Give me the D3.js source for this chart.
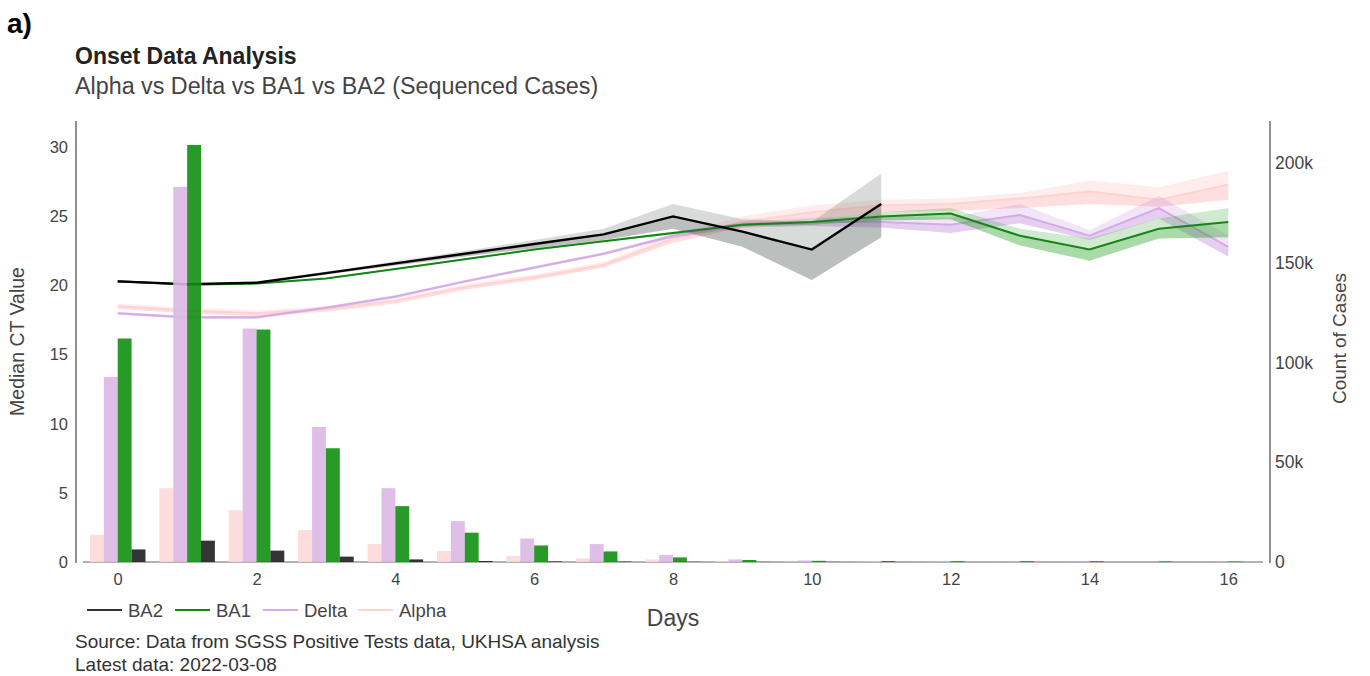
<!DOCTYPE html>
<html>
<head>
<meta charset="utf-8">
<script src="https://cdn.jsdelivr.net/npm/d3@7"></script>
<style>
	body { margin: 0; background: #fff; }
	svg { font-family: "Liberation Sans", Arial, sans-serif; }
	.tick text { fill: #444; font-size: 16.5px; }
	.y2 .tick text { font-size: 17.5px; }
</style>
</head>
<body>
<svg id="chart" width="1370" height="676"></svg>
<script>
var days = [0, 1, 2, 3, 4, 5, 6, 7, 8, 9, 10, 11, 12, 13, 14, 15, 16];
var series = ["Alpha", "Delta", "BA1", "BA2"];
var legendOrder = ["BA2", "BA1", "Delta", "Alpha"];

// count of cases per onset day (bars, right axis)
var casesAlpha = [13500, 37000, 26000, 16000, 9000, 5500, 3000, 1800, 1300, 400, 200, 100, 100, 50, 50, 20, 20];
var casesDelta = [92700, 188000, 117000, 67700, 37000, 20500, 11800, 9000, 3500, 1300, 800, 500, 300, 200, 200, 100, 100];
var casesBA1 = [112000, 209000, 116500, 57000, 28000, 14700, 8300, 5300, 2300, 1000, 600, 500, 400, 400, 400, 300, 200];
var casesBA2 = [6300, 10700, 5700, 2700, 1300, 500, 300, 200, 100, 50, 50, 30, 0, 0, 0, 0, 0];

// median CT value with band (left axis)
var ctBA2 = [20.3, 20.1, 20.2, 20.9, 21.6, 22.3, 23.0, 23.7, 25.0, 23.9, 22.6, 25.9];
var ctBA2Lo = [20.2, 20.05, 20.15, 20.8, 21.45, 22.1, 22.7, 23.3, 24.1, 22.8, 20.4, 23.5];
var ctBA2Hi = [20.4, 20.15, 20.25, 21.0, 21.75, 22.5, 23.3, 24.1, 25.9, 24.8, 24.6, 28.1];

var ctBA1 = [20.3, 20.05, 20.15, 20.5, 21.2, 21.9, 22.6, 23.2, 23.8, 24.4, 24.6, 25.0, 25.2, 23.6, 22.6, 24.1, 24.6];
var ctBA1Lo = [20.25, 20.0, 20.1, 20.45, 21.15, 21.85, 22.55, 23.15, 23.7, 24.3, 24.4, 24.7, 24.8, 22.9, 21.8, 23.4, 23.5];
var ctBA1Hi = [20.35, 20.1, 20.2, 20.55, 21.25, 21.95, 22.65, 23.25, 23.9, 24.5, 24.8, 25.3, 25.6, 24.1, 23.4, 24.85, 25.6];

var ctDelta = [18.0, 17.7, 17.7, 18.4, 19.2, 20.3, 21.3, 22.3, 23.6, 24.4, 24.6, 24.6, 24.4, 25.1, 23.6, 25.6, 22.8];
var ctDeltaLo = [17.9, 17.6, 17.6, 18.3, 19.1, 20.2, 21.2, 22.2, 23.45, 24.2, 24.3, 24.2, 23.8, 24.5, 23.3, 24.85, 22.1];
var ctDeltaHi = [18.1, 17.8, 17.8, 18.5, 19.3, 20.4, 21.4, 22.4, 23.75, 24.6, 24.9, 25.0, 24.9, 25.9, 24.0, 26.5, 23.6];

var ctAlpha = [18.5, 18.2, 18.0, 18.3, 18.9, 19.9, 20.6, 21.5, 23.4, 24.6, 25.3, 25.8, 25.9, 26.3, 26.8, 26.2, 27.3];
var ctAlphaLo = [18.3, 18.0, 17.8, 18.1, 18.7, 19.7, 20.4, 21.3, 23.1, 24.2, 24.8, 25.3, 25.4, 25.6, 25.9, 25.7, 26.2];
var ctAlphaHi = [18.7, 18.4, 18.2, 18.5, 19.1, 20.1, 20.8, 21.7, 23.7, 25.0, 25.8, 26.2, 26.3, 26.7, 27.6, 27.1, 28.3];

var yTicks = [0, 5, 10, 15, 20, 25, 30];
var y2Ticks = [0, 50000, 100000, 150000, 200000];
var xTicks = [0, 2, 4, 6, 8, 10, 12, 14, 16];

var colors = {
	Alpha: { bar: "#fcd8d8", line: "#ffd3d3", band: "rgba(255,140,140,0.16)" },
	Delta: { bar: "#dbb8e5", line: "#d4abe6", band: "rgba(170,100,210,0.17)" },
	BA1: { bar: "#118f11", line: "#138613", band: "rgba(20,150,20,0.2)" },
	BA2: { bar: "#1f1f1f", line: "#000000", band: "rgba(80,92,86,0.22)" }
};

var cases = { Alpha: casesAlpha, Delta: casesDelta, BA1: casesBA1, BA2: casesBA2 };
var ct = {
	BA2: { mid: ctBA2, lo: ctBA2Lo, hi: ctBA2Hi },
	BA1: { mid: ctBA1, lo: ctBA1Lo, hi: ctBA1Hi },
	Delta: { mid: ctDelta, lo: ctDeltaLo, hi: ctDeltaHi },
	Alpha: { mid: ctAlpha, lo: ctAlphaLo, hi: ctAlphaHi }
};

var svg = d3.select("#chart");

var plotTop = 121, plotBottom = 562;
var leftAxisX = 76, rightAxisX = 1270;

var xScale = d3.scaleLinear().domain([-0.5, 16.5]).range([83, 1263]);
var yScale = d3.scaleLinear().domain([0, 31.9]).range([plotBottom, plotTop]);
var y2Scale = d3.scaleLinear().domain([0, 221000]).range([plotBottom, plotTop]);
var step = xScale(1) - xScale(0);
var subScale = d3.scaleBand().domain(series).range([-step * 0.4, step * 0.4]);

// headings
svg.append("text").attr("x", 7).attr("y", 33)
	.style("font-size", "28px").style("font-weight", "bold").style("fill", "#000")
	.text("a)");
svg.append("text").attr("x", 75).attr("y", 64)
	.style("font-size", "23px").style("font-weight", "bold").style("fill", "#222")
	.text("Onset Data Analysis");
svg.append("text").attr("x", 75).attr("y", 94)
	.style("font-size", "23.3px").style("fill", "#444")
	.text("Alpha vs Delta vs BA1 vs BA2 (Sequenced Cases)");

// axes
var yAxis = d3.axisLeft(yScale).tickValues(yTicks).tickSize(0).tickPadding(8);
svg.append("g").attr("transform", "translate(" + leftAxisX + ",0)").call(yAxis)
	.call(g => g.select(".domain").remove());

var y2Axis = d3.axisRight(y2Scale).tickValues(y2Ticks).tickSize(0).tickPadding(5)
	.tickFormat(function(d) { return d === 0 ? "0" : (d / 1000) + "k"; });
svg.append("g").attr("class", "y2").attr("transform", "translate(" + rightAxisX + ",0)").call(y2Axis)
	.call(g => g.select(".domain").remove());

var xAxis = d3.axisBottom(xScale).tickValues(xTicks).tickSize(0).tickPadding(11);
svg.append("g").attr("transform", "translate(0," + plotBottom + ")").call(xAxis)
	.call(g => g.select(".domain").remove());

svg.append("line").attr("x1", leftAxisX).attr("x2", leftAxisX).attr("y1", plotTop).attr("y2", plotBottom + 1)
	.style("stroke", "#555").style("stroke-width", 1.3);
svg.append("line").attr("x1", rightAxisX).attr("x2", rightAxisX).attr("y1", plotTop).attr("y2", plotBottom + 1)
	.style("stroke", "#555").style("stroke-width", 1.3);
svg.append("line").attr("x1", xScale.range()[0]).attr("x2", xScale.range()[1]).attr("y1", plotBottom).attr("y2", plotBottom)
	.style("stroke", "#999").style("stroke-width", 1.3);

// axis titles
svg.append("text")
	.attr("transform", "translate(24," + ((plotTop + plotBottom) / 2) + ") rotate(-90)")
	.attr("text-anchor", "middle").style("font-size", "19.5px").style("fill", "#444")
	.text("Median CT Value");
svg.append("text")
	.attr("transform", "translate(1346," + ((plotTop + plotBottom) / 2 - 3) + ") rotate(-90)")
	.attr("text-anchor", "middle").style("font-size", "19px").style("fill", "#444")
	.text("Count of Cases");
svg.append("text").attr("x", (xScale.range()[0] + xScale.range()[1]) / 2).attr("y", 626)
	.attr("text-anchor", "middle").style("font-size", "23px").style("fill", "#444")
	.text("Days");

// bands and lines
var lines = svg.append("g");
var area = d3.area()
	.x(function(d) { return xScale(d.x); })
	.y0(function(d) { return yScale(d.lo); })
	.y1(function(d) { return yScale(d.hi); });
var line = d3.line()
	.x(function(d) { return xScale(d.x); })
	.y(function(d) { return yScale(d.y); });

["Alpha", "Delta", "BA1", "BA2"].forEach(function(k) {
	var s = ct[k];
	var pts = s.mid.map(function(v, i) {
		return { x: days[i], y: v, lo: s.lo[i], hi: s.hi[i] };
	});
	// whole band, then the lower half again so it reads darker
	lines.append("path").attr("d", area(pts)).style("fill", colors[k].band);
	lines.append("path")
		.attr("d", area(pts.map(function(p) { return { x: p.x, lo: p.lo, hi: p.y }; })))
		.style("fill", colors[k].band);
	lines.append("path").attr("d", line(pts))
		.style("fill", "none").style("stroke", colors[k].line)
		.style("stroke-width", k === "BA2" ? 2.4 : 2);
});

// bars on the count axis
var bars = svg.append("g");
series.forEach(function(k) {
	bars.selectAll(".bar-" + k)
		.data(cases[k])
		.enter()
		.append("rect")
		.attr("class", "bar-" + k)
		.attr("x", function(d, i) { return xScale(days[i]) + subScale(k); })
		.attr("width", subScale.bandwidth())
		.attr("y", function(d) { return y2Scale(d); })
		.attr("height", function(d) { return plotBottom - y2Scale(d); })
		.style("fill", colors[k].bar)
		.style("opacity", 0.9);
});

// legend
var legendX = [87, 175, 263, 358];
var legend = svg.append("g");
legendOrder.forEach(function(k, i) {
	var g = legend.append("g").attr("transform", "translate(" + legendX[i] + ",610)");
	g.append("line").attr("x1", 0).attr("x2", 35).attr("y1", 0).attr("y2", 0)
		.style("stroke", k === "BA2" ? "#333" : colors[k].line).style("stroke-width", 2);
	g.append("text").attr("x", 41).attr("y", 6.5)
		.style("font-size", "18.5px").style("fill", "#444").text(k);
});

// source notes
svg.append("text").attr("x", 75).attr("y", 648)
	.style("font-size", "19px").style("fill", "#333")
	.text("Source: Data from SGSS Positive Tests data, UKHSA analysis");
svg.append("text").attr("x", 75).attr("y", 671)
	.style("font-size", "19px").style("fill", "#333")
	.text("Latest data: 2022-03-08");
</script>
</body>
</html>
